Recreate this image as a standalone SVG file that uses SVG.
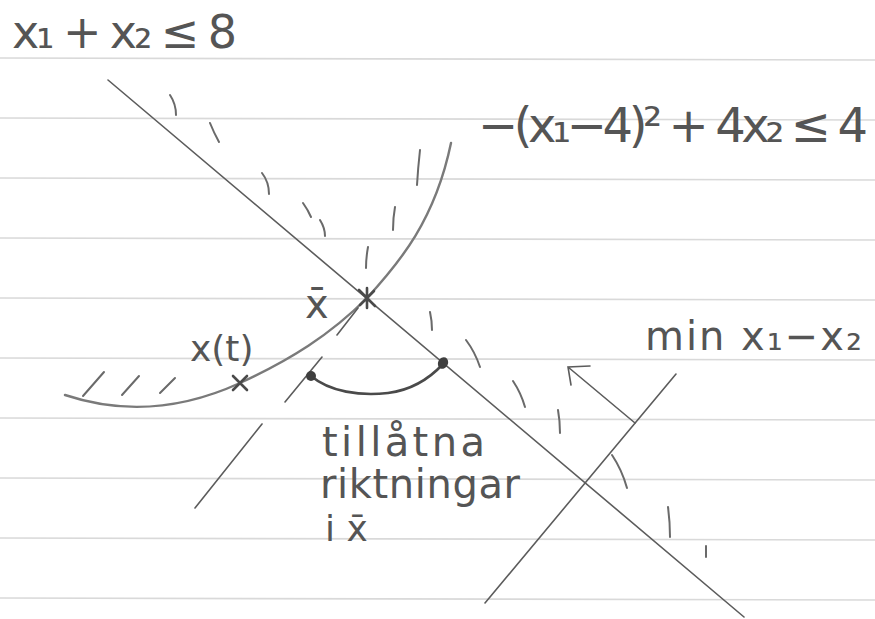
<svg xmlns="http://www.w3.org/2000/svg" width="875" height="619" viewBox="0 0 875 619">
<style>
.paper{stroke:#d9d9d9;stroke-width:1.6}
.ln{fill:none;stroke:#5c5c5c;stroke-width:1.6;stroke-linecap:round}
.cv{fill:none;stroke:#7a7a7a;stroke-width:2.4;stroke-linecap:round}
.hatch{fill:none;stroke:#6a6a6a;stroke-width:2;stroke-linecap:round}
.dark{fill:none;stroke:#4a4a4a;stroke-width:2.6;stroke-linecap:round}
.t{font-family:"DejaVu Sans","Liberation Sans",sans-serif;fill:#555;font-weight:normal}
</style>
<rect width="875" height="619" fill="#ffffff"/>
<g id="paper">
<line class="paper" x1="0" y1="58" x2="875" y2="60"/>
<line class="paper" x1="0" y1="118" x2="875" y2="120"/>
<line class="paper" x1="0" y1="178" x2="875" y2="180"/>
<line class="paper" x1="0" y1="238" x2="875" y2="240"/>
<line class="paper" x1="0" y1="298" x2="875" y2="300"/>
<line class="paper" x1="0" y1="358" x2="875" y2="360"/>
<line class="paper" x1="0" y1="418" x2="875" y2="420"/>
<line class="paper" x1="0" y1="478" x2="875" y2="480"/>
<line class="paper" x1="0" y1="538" x2="875" y2="540"/>
<line class="paper" x1="0" y1="598" x2="875" y2="600"/>
</g>
<g id="constraint-line">
<line class="ln" x1="108" y1="80" x2="744" y2="617"/>
</g>
<g id="parabola">
<path class="cv" d="M65,395 C110,410 170,415 240,383 C290,360 330,335 367,298 C400,262 435,220 451,143"/>
</g>
<g id="hatches">
<path class="hatch" d="M170,95 Q176,104 176,115 M210,123 Q214,133 219,142 M262,173 Q269,182 269,194 M303,203 Q308,210 311,217 M320,220 Q325,228 325,236"/>
<path class="hatch" d="M420,150 Q418,168 417,185 M395,207 Q393,218 393,230 M368,247 Q366,258 366,268"/>
<path class="hatch" d="M430,312 Q432,321 432,330 M466,340 Q475,352 480,367 M513,381 Q521,393 525,407 M558,410 Q560,421 560,433 M612,455 Q622,470 627,488 M668,507 Q670,522 670,537 M706,546 L706,557"/>
<path class="hatch" d="M83,396 L104,372 M122,395 L139,376 M160,393 L175,378"/>
</g>
<g id="tangent">
<path class="ln" d="M358,308 L337,335 M322,357 L285,402 M262,424 L195,508"/>
</g>
<g id="xbar-point">
<path class="dark" d="M359,290 L375,306 M360,305 L374,291 M367,288 L367,308"/>
</g>
<g id="xt-point">
<path class="dark" d="M233,376 L247,390 M233,390 L247,376"/>
</g>
<g id="feasible-directions">
<path class="dark" d="M311,376 C330,392 360,396 388,393 C412,390 430,378 443,364"/>
<ellipse cx="311" cy="376" rx="5" ry="5" fill="#3f3f3f"/>
<ellipse cx="443" cy="363" rx="5" ry="6" fill="#3f3f3f" transform="rotate(25 443 363)"/>
</g>
<g id="objective">
<line class="ln" x1="485" y1="603" x2="676" y2="374"/>
<path class="ln" d="M635,423 L568,367 M590,366 L568,367 L571,385" stroke-width="2"/>
</g>
<g id="labels">
<text class="t" x="12" y="48" font-size="46" textLength="225" lengthAdjust="spacing">x₁ + x₂ ≤ 8</text>
<text class="t" x="478" y="142" font-size="48" textLength="390" lengthAdjust="spacing">−(x₁−4)² + 4x₂ ≤ 4</text>
<text class="t" x="305" y="318" font-size="40">x̄</text>
<text class="t" x="190" y="361" font-size="36">x(t)</text>
<text class="t" x="322" y="456" font-size="40" textLength="163" lengthAdjust="spacing">tillåtna</text>
<text class="t" x="320" y="498" font-size="40" textLength="200" lengthAdjust="spacing">riktningar</text>
<text class="t" x="325" y="541" font-size="36">i x̄</text>
<text class="t" x="645" y="350" font-size="40" textLength="217" lengthAdjust="spacing">min x₁−x₂</text>
</g>
</svg>
